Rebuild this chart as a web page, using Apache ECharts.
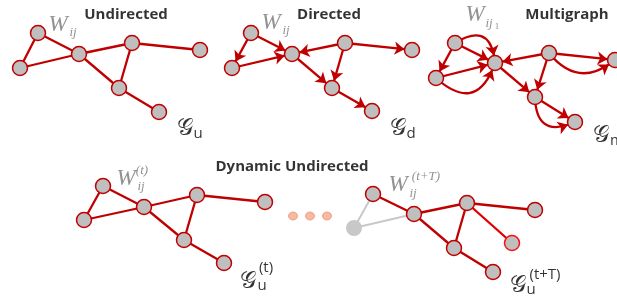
<!DOCTYPE html>
<html>
<head>
<meta charset="utf-8">
<script src="https://cdn.jsdelivr.net/npm/echarts@6/dist/echarts.min.js"></script>
<style>
html, body { margin: 0; padding: 0; background: #fff; }
#main { width: 617px; height: 301px; }
</style>
</head>
<body>
<div id="main"></div>
<script>
// node positions per graph (pixel space of the figure)
var undirNodes = [[38, 33], [20, 68], [79, 54], [132, 43], [200, 50], [119, 88], [159, 112]];
var dirNodes = [[251, 33], [232, 68], [292, 54], [345, 43], [412, 50], [332, 88], [372, 111]];
var multiNodes = [[455, 43], [436, 78], [495, 63], [549, 53], [615, 60], [535, 97], [575, 122]];
var dynNodesA = [[103, 186], [84, 220], [144, 207], [197, 195], [265, 202], [184, 240], [224, 263]];
var dynNodesB = [[373, 194], [354, 228], [414, 214], [467, 203], [535, 210], [454, 248], [493, 272], [512, 243]];

// edges (source, target)
var undirEdges = [[0, 1], [0, 2], [1, 2], [2, 3], [3, 4], [3, 5], [2, 5], [5, 6]];
var dirEdges = [[0, 1], [0, 2], [1, 2], [3, 2], [3, 4], [3, 5], [2, 5], [5, 6]];
// extra parallel edges of the multigraph: source, target, curveness
var multiExtra = [[0, 2, 0.8], [1, 2, -0.75], [3, 4, -0.5], [5, 6, -0.75]];
var dynEdgesB = [[0, 2], [2, 3], [3, 4], [3, 5], [2, 5], [5, 6]];
var fadedEdgesB = [[0, 1], [1, 2]];
var addedEdgesB = [[3, 7]];
var fadedNodeB = 1, addedNodeB = 7;

var dots = [[293, 216], [310, 216], [327, 216]];

// text: x, y (centre), text, style
var labels = [
    [126, 15, 'Undirected', 'title'],
    [329, 15, 'Directed', 'title'],
    [567, 15, 'Multigraph', 'title'],
    [292, 167, 'Dynamic Undirected', 'title'],
    [58, 25, 'W', 'w'], [73, 33, 'ij', 'sub'],
    [271, 23, 'W', 'w'], [286, 31, 'ij', 'sub'],
    [475, 15, 'W', 'w'], [489, 24, 'ij', 'sub'], [497, 27, '1', 'sub2'],
    [126, 179, 'W', 'w'], [142, 171, '(t)', 'sub'], [141, 187, 'ij', 'sub'],
    [398, 185, 'W', 'w'], [426, 177, '(t+T)', 'sub'], [413, 194, 'ij', 'sub'],
    [185, 129, '\uD835\uDCA2', 'G'], [198, 134, 'u', 'gs'],
    [398, 129, '\uD835\uDCA2', 'G'], [411, 134, 'd', 'gs'],
    [601, 136, '\uD835\uDCA2', 'G'], [617, 141, 'm', 'gs'],
    [248, 282, '\uD835\uDCA2', 'G'], [262, 286, 'u', 'gs'], [266, 268, '(t)', 'gsup'],
    [518, 286, '\uD835\uDCA2', 'G'], [531, 290, 'u', 'gs'], [545, 275, '(t+T)', 'gsup']
];

var RED = '#c00000';
var textStyles = {
    title: { fontFamily: 'Open Sans', fontWeight: 'bold', fontSize: 15, color: '#000' },
    w: { fontFamily: 'Liberation Serif', fontStyle: 'italic', fontSize: 23, color: '#777' },
    sub: { fontFamily: 'Liberation Serif', fontStyle: 'italic', fontSize: 13, color: '#777' },
    sub2: { fontFamily: 'Liberation Serif', fontSize: 9, color: '#777' },
    G: { fontFamily: 'DejaVu Sans', fontSize: 23, color: '#000' },
    gs: { fontFamily: 'Open Sans', fontSize: 15, color: '#000' },
    gsup: { fontFamily: 'Open Sans', fontSize: 15, color: '#000' }
};

function graphSeries(nodes, edges, arrows) {
    return {
        type: 'graph',
        coordinateSystem: 'cartesian2d',
        symbolSize: 15,
        silent: true,
        edgeSymbol: arrows ? ['none', 'arrow'] : ['none', 'none'],
        edgeSymbolSize: 10,
        itemStyle: { color: '#bfbfbf', borderColor: RED, borderWidth: 1.5 },
        lineStyle: { color: RED, width: 2.3, opacity: 1 },
        data: nodes,
        links: edges
    };
}

function link(e, style) {
    var l = { source: e[0], target: e[1] };
    if (style) l.lineStyle = style;
    return l;
}

var multiLinks = dirEdges.map(function (e) { return link(e); });
multiExtra.forEach(function (e) {
    multiLinks.push(link(e, { curveness: e[2] }));
});

var dynLinksB = dynEdgesB.map(function (e) { return link(e); });
fadedEdgesB.forEach(function (e) {
    dynLinksB.push(link(e, { color: '#c8c8c8', width: 2 }));
});
addedEdgesB.forEach(function (e) {
    dynLinksB.push(link(e, { color: '#e00000' }));
});
var dynDataB = dynNodesB.map(function (p, i) {
    if (i === fadedNodeB) return { value: p, itemStyle: { color: '#c8c8c8', borderWidth: 0 }, symbolSize: 16 };
    if (i === addedNodeB) return { value: p, itemStyle: { borderColor: '#ff1010' } };
    return { value: p };
});

var chart = echarts.init(document.getElementById('main'), null, { renderer: 'canvas' });

chart.setOption({
    animation: false,
    grid: { left: 0, right: 0, top: 0, bottom: 0 },
    xAxis: { type: 'value', min: 0, max: 617, show: false },
    yAxis: { type: 'value', min: 0, max: 301, inverse: true, show: false },
    series: [
        graphSeries(undirNodes, undirEdges.map(function (e) { return link(e); }), false),
        graphSeries(dirNodes, dirEdges.map(function (e) { return link(e); }), true),
        graphSeries(multiNodes, multiLinks, true),
        graphSeries(dynNodesA, undirEdges.map(function (e) { return link(e); }), false),
        graphSeries(dynDataB, dynLinksB, false),
        {
            type: 'scatter',
            silent: true,
            symbolSize: [9, 8],
            itemStyle: { color: '#f4a98c', borderColor: '#e8805e', borderWidth: 0.8 },
            data: dots
        },
        {
            type: 'scatter',
            silent: true,
            symbolSize: 0,
            data: labels.map(function (l) {
                return {
                    value: [l[0], l[1]],
                    label: Object.assign({
                        show: true,
                        position: 'inside',
                        align: 'center',
                        verticalAlign: 'middle',
                        formatter: l[2]
                    }, textStyles[l[3]])
                };
            })
        }
    ]
});
</script>
</body>
</html>
